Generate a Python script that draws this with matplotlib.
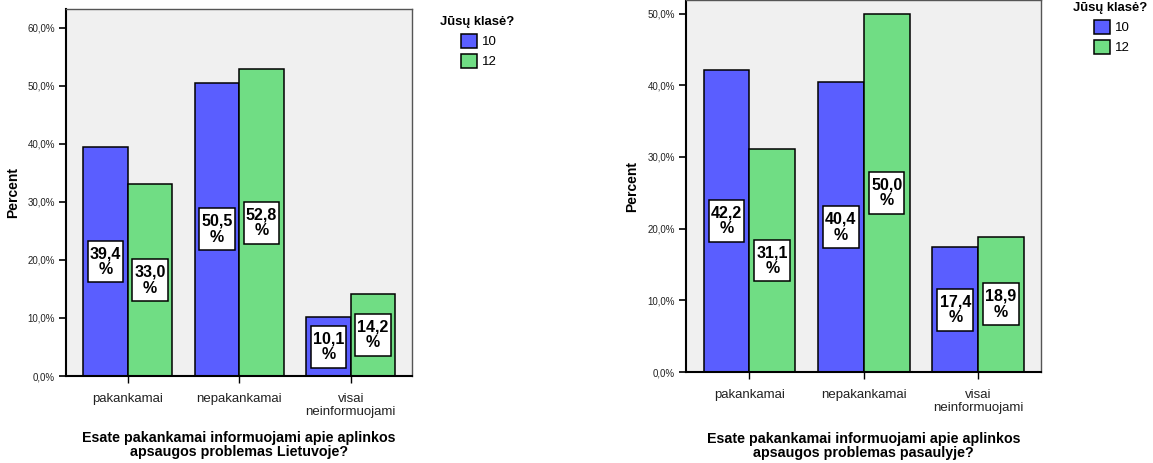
import matplotlib
matplotlib.use("Agg")
import matplotlib.pyplot as plt
import numpy as np

plt.rcParams['font.family'] = ['Liberation Sans', 'DejaVu Sans']

categories = ["pakankamai", "nepakankamai", "visai\nneinformuojami"]
series_names = ["10", "12"]
lt_10 = [39.4, 50.5, 10.1]
lt_12 = [33.0, 52.8, 14.2]
world_10 = [42.2, 40.4, 17.4]
world_12 = [31.1, 50.0, 18.9]
left_yticks = [0, 10, 20, 30, 40, 50, 60]
right_yticks = [0, 10, 20, 30, 40, 50]
left_title = "Esate pakankamai informuojami apie aplinkos\napsaugos problemas Lietuvoje?"
right_title = "Esate pakankamai informuojami apie aplinkos\napsaugos problemas pasaulyje?"
legend_title = "Jūsų klasė?"

BLUE = "#5A5EFF"
GREEN = "#70DD84"
BG = "#F0F0F0"

W, H = 1153, 463
fig = plt.figure(figsize=(W / 100, H / 100), dpi=100)


def px_axes(x0, y0, x1, y1):
    return fig.add_axes([x0 / W, 1 - y1 / H, (x1 - x0) / W, (y1 - y0) / H])


def fmt(v):
    return f"{v:.1f}".replace(".", ",")


def draw(ax, v10, v12, yticks, ymax, xtitle, xlab_y):
    x = np.arange(len(categories))
    w = 0.4
    b1 = ax.bar(x - w / 2, v10, w, color=BLUE, edgecolor="black", linewidth=1.1, zorder=2)
    b2 = ax.bar(x + w / 2, v12, w, color=GREEN, edgecolor="black", linewidth=1.1, zorder=2)
    for xs, vals in ((x - w / 2, v10), (x + w / 2, v12)):
        for xi, v in zip(xs, vals):
            ax.text(xi, v / 2, fmt(v) + "\n%", ha="center", va="center",
                    fontsize=11.5, fontweight="bold", linespacing=1.08,
                    bbox=dict(boxstyle="square,pad=0.13", fc="white", ec="black",
                              lw=1.1, mutation_aspect=2.6),
                    zorder=3)
    ax.set_facecolor(BG)
    ax.set_xlim(-0.555, 2.55)
    ax.set_ylim(0, ymax)
    ax.set_yticks(yticks)
    ax.set_yticklabels([fmt(t) + "%" for t in yticks], fontsize=7, color="#222222")
    ax.set_xticks(x)
    ax.set_xticklabels(categories, fontsize=9.5, color="#222222", linespacing=1.15)
    ax.tick_params(axis="y", length=5, width=1.2, pad=3)
    ax.tick_params(axis="x", length=5, width=1.0, pad=7)
    for s in ("left", "bottom"):
        ax.spines[s].set_linewidth(1.5)
        ax.spines[s].set_color("black")
    for s in ("top", "right"):
        ax.spines[s].set_linewidth(1.0)
        ax.spines[s].set_color("#555555")
    ax.set_ylabel("Percent", fontsize=10, fontweight="bold")
    ax.yaxis.set_label_coords(-0.133, 0.5)
    ax.set_xlabel(xtitle, fontsize=10.3, fontweight="bold", linespacing=1.0, va="center")
    ax.xaxis.set_label_coords(0.5, xlab_y)
    return b1, b2


ax1 = px_axes(66, 9, 412, 376)
h1 = draw(ax1, lt_10, lt_12, left_yticks, 63.2, left_title, -0.189)
ax2 = px_axes(686, 0, 1041, 372)
h2 = draw(ax2, world_10, world_12, right_yticks, 51.9, right_title, -0.198)


def legend(handles, title_x, title_y, patch_x):
    fig.text(title_x / W, 1 - title_y / H, legend_title, fontsize=9.4,
             fontweight="bold", ha="left", va="center")
    leg = fig.legend(handles, series_names, loc="upper left",
                     bbox_to_anchor=(patch_x / W, 1 - (title_y + 12) / H),
                     bbox_transform=fig.transFigure, frameon=False, fontsize=9.5,
                     handlelength=1.2, handleheight=1.2, handletextpad=0.4,
                     labelspacing=0.45, borderpad=0, borderaxespad=0)
    return leg


legend(h1, 440, 22, 461)
legend(h2, 1073, 8, 1094)

fig.savefig("out.png", dpi=100)
